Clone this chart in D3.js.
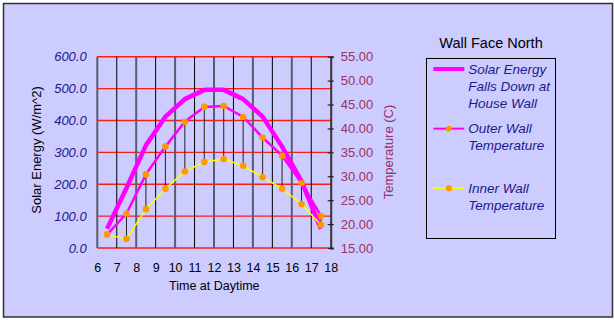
<!DOCTYPE html>
<html>
<head>
<meta charset="utf-8">
<script src="https://cdn.jsdelivr.net/npm/d3@7"></script>
<style>
  body { margin: 0; background: #fff; }
  text { font-family: "Liberation Sans", Arial, sans-serif; }
</style>
</head>
<body>
<div class="chart"></div>
<script>
// hour marks on the time axis
const hourTicks = [6, 7, 8, 9, 10, 11, 12, 13, 14, 15, 16, 17, 18]
// readings are taken in the middle of each hour
const times = [6.5, 7.5, 8.5, 9.5, 10.5, 11.5, 12.5, 13.5, 14.5, 15.5, 16.5, 17.5]
const solar = [60, 188, 322, 412, 467, 496, 496, 467, 412, 318, 210, 60]
const outerWall = [17.8, 22.2, 30.4, 36.2, 41.4, 44.5, 44.7, 42.4, 38.1, 34.3, 28.6, 21.7]
const innerWall = [17.8, 16.9, 23.1, 27.4, 31.0, 33.0, 33.6, 32.2, 29.8, 27.4, 24.2, 19.8]
const energyTicks = [0, 100, 200, 300, 400, 500, 600]
const tempTicks = [15, 20, 25, 30, 35, 40, 45, 50, 55]
const legendNames = [
  ["Solar Energy", "Falls Down at", "House Wall"],
  ["Outer Wall", "Temperature"],
  ["Inner Wall", "Temperature"]
]

const W = 614, H = 320
const plot = {left: 97.3, right: 330.7, top: 56.7, bottom: 248}

const svg = d3.select(".chart")
  .append("svg")
  .attr("width", W)
  .attr("height", H)

// chart background + frame
svg.append("rect")
  .attr("x", 3.5).attr("y", 3.5)
  .attr("width", 609).attr("height", 313.5)
  .attr("fill", "#CCCCFF")
  .attr("stroke", "#333")
  .attr("stroke-width", 1.5)

const x = d3.scaleLinear().domain([6, 18]).range([plot.left, plot.right])
const yE = d3.scaleLinear().domain([0, 600]).range([plot.bottom, plot.top])
const yT = d3.scaleLinear().domain([15, 55]).range([plot.bottom, plot.top])

// horizontal red gridlines (energy axis)
svg.append("g")
  .selectAll("line")
  .data(energyTicks)
  .join("line")
  .attr("x1", plot.left).attr("x2", plot.right)
  .attr("y1", d => yE(d)).attr("y2", d => yE(d))
  .attr("stroke", "#ff1a1a")
  .attr("stroke-width", 1.4)

// vertical lines at each hour, alternating style
svg.append("g")
  .selectAll("line")
  .data(hourTicks.slice(0, -1))
  .join("line")
  .attr("x1", d => x(d)).attr("x2", d => x(d))
  .attr("y1", plot.top).attr("y2", plot.bottom)
  .attr("stroke", d => d % 2 == 0 ? "#5a5a70" : "#000")
  .attr("stroke-width", d => d % 2 == 0 ? 2 : 1)

// high-low lines between outer and inner wall
svg.append("g")
  .selectAll("line")
  .data(times)
  .join("line")
  .attr("x1", d => x(d)).attr("x2", d => x(d))
  .attr("y1", (d, i) => yT(outerWall[i]))
  .attr("y2", (d, i) => yT(innerWall[i]))
  .attr("stroke", "#222")
  .attr("stroke-width", 1)

// left axis labels
const leftAxis = svg.append("g")
  .attr("transform", `translate(${plot.left},0)`)
  .call(d3.axisLeft(yE).tickValues(energyTicks).tickSize(0).tickPadding(10.6).tickFormat(d3.format(".1f")))
leftAxis.select(".domain").remove()
leftAxis.selectAll("text")
  .attr("fill", "#1a1a8c")
  .attr("font-style", "italic")
  .attr("font-size", "13px")
  .attr("font-family", "Liberation Sans, Arial, sans-serif")

// right axis
const rightAxis = svg.append("g")
  .attr("transform", `translate(${plot.right},0)`)
  .call(d3.axisRight(yT).tickValues(tempTicks).tickSize(3).tickPadding(7).tickFormat(d3.format(".2f")))
rightAxis.select(".domain")
  .attr("stroke", "#333").attr("stroke-width", 2)
rightAxis.selectAll(".tick line")
  .attr("x1", -3).attr("stroke", "#222").attr("stroke-width", 1.2)
rightAxis.selectAll("text")
  .attr("fill", "#993366")
  .attr("font-size", "13px")
  .attr("font-family", "Liberation Sans, Arial, sans-serif")

// bottom axis labels
const bottomAxis = svg.append("g")
  .attr("transform", `translate(0,${plot.bottom})`)
  .call(d3.axisBottom(x).tickValues(hourTicks).tickSize(0).tickPadding(14.7).tickFormat(d3.format("d")))
bottomAxis.select(".domain").remove()
bottomAxis.selectAll("text")
  .attr("fill", "#000")
  .attr("font-size", "12.5px")
  .attr("font-family", "Liberation Sans, Arial, sans-serif")

// axis titles
svg.append("text")
  .attr("transform", "translate(41,150) rotate(-90)")
  .attr("text-anchor", "middle")
  .attr("font-size", "13px")
  .attr("fill", "#000")
  .text("Solar Energy (W/m^2)")

svg.append("text")
  .attr("transform", "translate(392.5,152) rotate(-90)")
  .attr("text-anchor", "middle")
  .attr("font-size", "13px")
  .attr("fill", "#993366")
  .text("Temperature (C)")

svg.append("text")
  .attr("x", 214.3).attr("y", 290)
  .attr("text-anchor", "middle")
  .attr("font-size", "12.5px")
  .attr("fill", "#000")
  .text("Time at Daytime")

// series lines
const lineE = d3.line().x((d, i) => x(times[i])).y(d => yE(d))
const lineT = d3.line().x((d, i) => x(times[i])).y(d => yT(d))

svg.append("path")
  .datum(solar)
  .attr("d", lineE)
  .attr("fill", "none")
  .attr("stroke", "#ff00ff")
  .attr("stroke-width", 4.5)
  .attr("stroke-linejoin", "round")

svg.append("path")
  .datum(outerWall)
  .attr("d", lineT)
  .attr("fill", "none")
  .attr("stroke", "#ff00ff")
  .attr("stroke-width", 2.5)

svg.append("path")
  .datum(innerWall)
  .attr("d", lineT)
  .attr("fill", "none")
  .attr("stroke", "#ffff00")
  .attr("stroke-width", 1.5)

// markers
const markers = svg.append("g")
;[outerWall, innerWall].forEach(series => {
  markers.append("g")
    .selectAll("circle")
    .data(series)
    .join("circle")
    .attr("cx", (d, i) => x(times[i]))
    .attr("cy", d => yT(d))
    .attr("r", 3.3)
    .attr("fill", "#ff9900")
})

// legend
svg.append("text")
  .attr("x", 491).attr("y", 48)
  .attr("text-anchor", "middle")
  .attr("font-size", "14.5px")
  .attr("fill", "#000")
  .text("Wall Face North")

svg.append("rect")
  .attr("x", 426.5).attr("y", 58.5)
  .attr("width", 129).attr("height", 180)
  .attr("fill", "none")
  .attr("stroke", "#000")
  .attr("stroke-width", 1)

const legendStyle = [
  {color: "#ff00ff", width: 4, marker: false},
  {color: "#ff00ff", width: 2, marker: true},
  {color: "#ffff00", width: 1.5, marker: true}
]
const legendY = d3.scaleLinear().domain([0, 2]).range([69, 188.3])

const legends = svg.append("g")
  .selectAll("g")
  .data(legendNames)
  .join("g")
  .attr("transform", (d, i) => `translate(0,${legendY(i)})`)

legends.append("line")
  .attr("x1", 433.3).attr("x2", 464.3)
  .attr("stroke", (d, i) => legendStyle[i].color)
  .attr("stroke-width", (d, i) => legendStyle[i].width)

legends.filter((d, i) => legendStyle[i].marker)
  .append("circle")
  .attr("cx", 448.8)
  .attr("r", 3)
  .attr("fill", "#ff9900")

legends.append("text")
  .attr("x", 468.3)
  .attr("font-size", "13.5px")
  .attr("font-style", "italic")
  .attr("fill", "#1a1a8c")
  .selectAll("tspan")
  .data(d => d)
  .join("tspan")
  .attr("x", 468.3)
  .attr("y", (d, i) => 4.8 + i * 17)
  .text(d => d)
</script>
</body>
</html>
